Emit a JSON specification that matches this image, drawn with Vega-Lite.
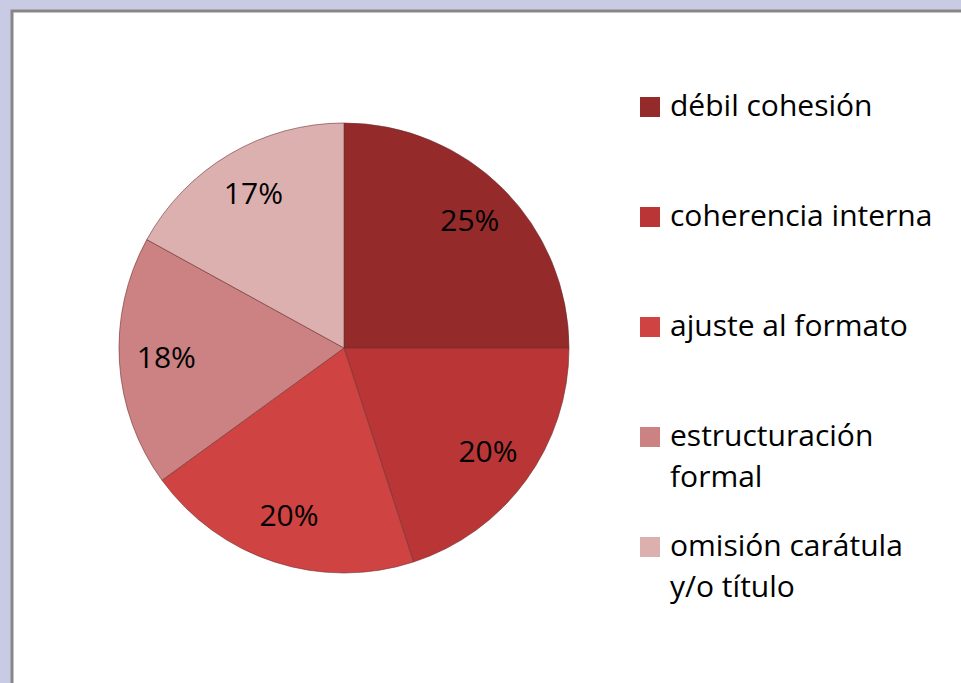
{
  "$schema": "https://vega.github.io/schema/vega-lite/v6.json",
  "background": "#C9CAE4",
  "padding": {"left": 10, "top": 9, "right": 0, "bottom": 0},
  "autosize": {"type": "pad"},
  "spacing": 0,
  "bounds": "flush",
  "config": {"font": "Open Sans", "style": {"guide-label": {"lineHeight": 41}}},
  "datasets": {
    "d": [
      {"categoria": "débil cohesión", "pct": 0.25, "orden": 1},
      {"categoria": "coherencia interna", "pct": 0.20, "orden": 2},
      {"categoria": "ajuste al formato", "pct": 0.20, "orden": 3},
      {"categoria": "estructuración formal", "pct": 0.18, "orden": 4},
      {"categoria": "omisión carátula y/o título", "pct": 0.17, "orden": 5}
    ]
  },
  "hconcat": [
    {
      "width": 664,
      "height": 674,
      "view": {"fill": "white", "stroke": "#878787", "strokeWidth": 3, "strokeDash": [664, 1338, 674]},
      "data": {"name": "d"},
      "encoding": {
        "theta": {"field": "pct", "type": "quantitative", "stack": true},
        "order": {"field": "orden", "type": "quantitative", "sort": "ascending"},
        "color": {
          "field": "categoria",
          "type": "nominal",
          "sort": ["débil cohesión", "coherencia interna", "ajuste al formato", "estructuración formal", "omisión carátula y/o título"],
          "scale": {
            "domain": ["débil cohesión", "coherencia interna", "ajuste al formato", "estructuración formal", "omisión carátula y/o título"],
            "range": ["#952A2A", "#BA3636", "#CF4343", "#CC8282", "#DDB0B0"]
          },
          "legend": {
            "orient": "none",
            "legendX": 623,
            "legendY": 81,
            "title": null,
            "padding": 0,
            "symbolType": "square",
            "symbolSize": 400,
            "symbolStrokeWidth": 0,
            "labelFont": "Open Sans",
            "labelFontSize": 30,
            "labelColor": "black",
            "labelOffset": 5,
            "labelLimit": 400,
            "rowPadding": 39,
            "gridAlign": "all",
            "labelExpr": "datum.label == 'estructuración formal' ? ['estructuración', 'formal'] : datum.label == 'omisión carátula y/o título' ? ['omisión carátula', 'y/o título'] : datum.label",
            "encode": {
              "labels": {
                "update": {
                  "lineHeight": {"value": 41},
                  "dy": {"signal": "datum.value == 'estructuración formal' || datum.value == 'omisión carátula y/o título' ? 22.5 : 2"}
                }
              }
            }
          }
        }
      },
      "layer": [
        {"mark": {"type": "arc", "outerRadius": 225, "stroke": "#6e3030", "strokeWidth": 1, "strokeOpacity": 0.6}},
        {
          "mark": {"type": "text", "radius": 178, "fontSize": 30, "font": "Open Sans"},
          "encoding": {
            "text": {"field": "pct", "type": "quantitative", "format": ".0%"},
            "color": {"value": "black"}
          }
        }
      ]
    },
    {
      "width": 287,
      "height": 674,
      "view": {"fill": "white", "stroke": "#878787", "strokeWidth": 3, "strokeDash": [287, 5000]},
      "data": {"name": "d"},
      "mark": {"type": "point", "opacity": 0},
      "encoding": {}
    }
  ]
}
